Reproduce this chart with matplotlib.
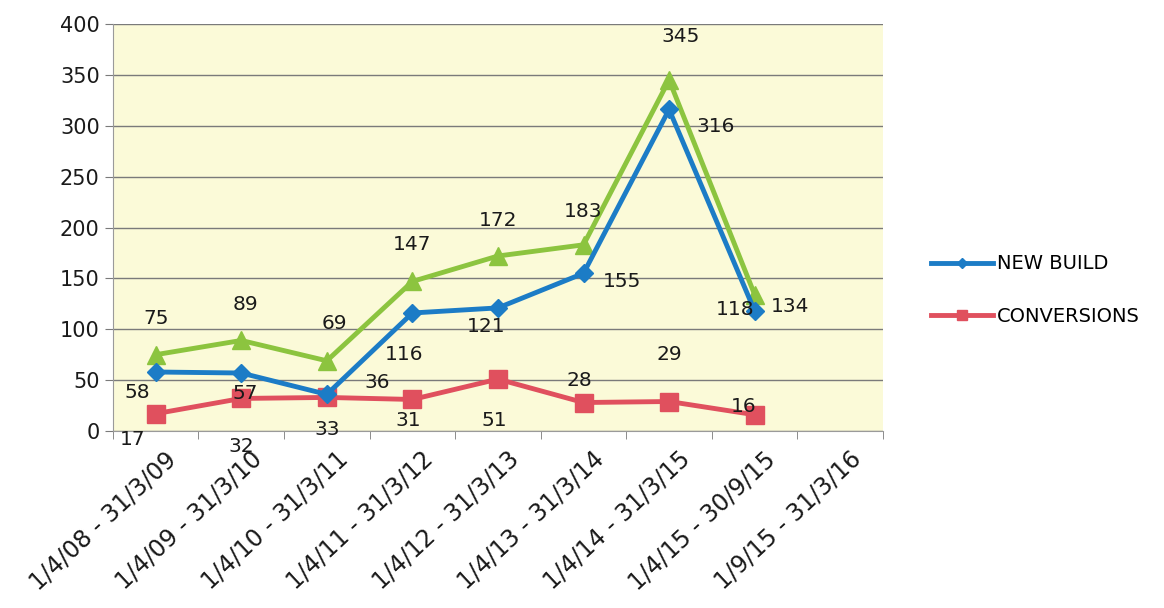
import matplotlib.pyplot as plt
import matplotlib.transforms as mtrans
import numpy as np

# categories / values
periods = ["1/4/08 - 31/3/09", "1/4/09 - 31/3/10", "1/4/10 - 31/3/11",
           "1/4/11 - 31/3/12", "1/4/12 - 31/3/13", "1/4/13 - 31/3/14",
           "1/4/14 - 31/3/15", "1/4/15 - 30/9/15", "1/9/15 - 31/3/16"]
total = [75, 89, 69, 147, 172, 183, 345, 134]
new_build = [58, 57, 36, 116, 121, 155, 316, 118]
conversions = [17, 32, 33, 31, 51, 28, 29, 16]

# label offsets (pixels) -- style, not data
off_total = [(0, 36), (4, 36), (8, 37), (0, 37), (0, 36), (0, 33), (12, 43), (35, -12)]
off_new = [(-18, -21), (4, -20), (50, 12), (-8, -42), (-12, -19), (38, -8), (47, -17), (-20, 1)]
off_conv = [(-23, -26), (0, -48), (0, -32), (-4, -21), (-4, -41), (-4, 22), (0, 47), (-11, 8)]

green = "#8cc43f"
blue = "#1c7cc6"
red = "#e0505e"

fig = plt.figure(figsize=(11.64, 6.08), dpi=100)
ax = fig.add_axes([0.097, 0.2911, 0.6616, 0.6694])
ax.set_facecolor("#fbfad8")

x = np.arange(len(periods))
n = len(total)
ax.plot(x[:n], total, color=green, lw=3.5, marker="^", ms=13, zorder=3)
ax.plot(x[:n], new_build, color=blue, lw=3.5, marker="D", ms=9, zorder=4, label="NEW BUILD")
ax.plot(x[:n], conversions, color=red, lw=3.5, marker="s", ms=13, zorder=3, label="CONVERSIONS")

for vals, offs in ((total, off_total), (new_build, off_new), (conversions, off_conv)):
    for i, v in enumerate(vals):
        ax.annotate(str(v), (x[i], v), xytext=offs[i], textcoords="offset pixels",
                    ha="center", va="center", fontsize=14.5, color="#1a1a1a", zorder=5)

ax.set_xlim(-0.5, len(periods) - 0.5)
ax.set_ylim(0, 400)
ax.set_yticks(np.arange(0, 401, 50))
ax.grid(axis="y", color="#7a7a7a", lw=1)
ax.set_axisbelow(True)
ax.tick_params(axis="y", labelsize=15, length=6, color="#7a7a7a", labelcolor="#1a1a1a")

# category labels drawn by hand so they can sit off the tick centre like the original
ax.set_xticks(x)
ax.set_xticklabels([])
ax.tick_params(axis="x", which="major", length=0)
lab_tr = ax.get_xaxis_transform() + mtrans.ScaledTranslation(0.09, -0.16, fig.dpi_scale_trans)
for i, p in enumerate(periods):
    ax.text(x[i], 0, p, transform=lab_tr, rotation=43, rotation_mode="anchor",
            ha="right", va="top", fontsize=17, color="#1a1a1a", clip_on=False)
ax.set_xticks(np.arange(-0.5, len(periods)), minor=True)
ax.tick_params(axis="x", which="minor", length=6, color="#7a7a7a")

for s in ("top", "right"):
    ax.spines[s].set_visible(False)
ax.spines["left"].set_color("#9a9a9a")
ax.spines["bottom"].set_color("#9a9a9a")

fig.legend(loc="center left", bbox_to_anchor=(0.785, 0.523), frameon=False,
           fontsize=14, handlelength=3.2, labelspacing=1.7, handletextpad=0.2,
           markerscale=0.55)

plt.savefig("out.png")
